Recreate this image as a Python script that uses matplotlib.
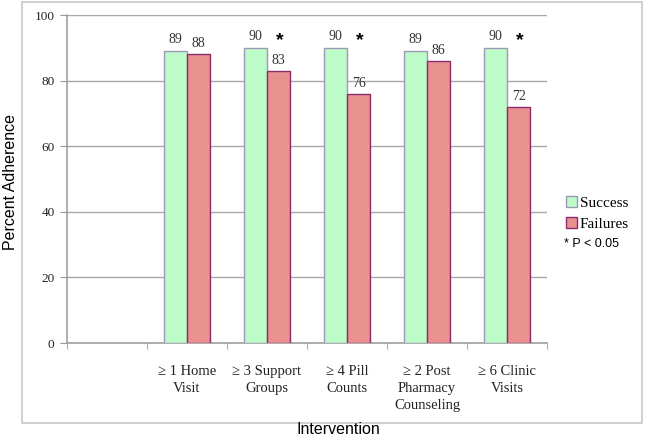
"""
Adherence by intervention: success vs failures, grouped bar chart.
"""

import matplotlib.pyplot as plt
import numpy as np
from matplotlib.patches import Patch, Rectangle

# === Data ===
CATEGORIES = ["", "≥ 1 Home\nVisit", "≥ 3 Support\nGroups", "≥ 4 Pill\nCounts",
              "≥ 2 Post\nPharmacy\nCounseling", "≥ 6 Clinic\nVisits"]
SUCCESS = [np.nan, 89, 90, 90, 89, 90]
FAILURES = [np.nan, 88, 83, 76, 86, 72]
SIGNIFICANT = [False, False, True, True, False, True]

GREEN = "#bdfcc9"
GREEN_EDGE = "#9a9ab8"
RED = "#e8918f"
RED_EDGE = "#8e2a6e"
SERIF = "Liberation Serif"
SANS = "Liberation Sans"

fig = plt.figure(figsize=(6.45, 4.37), dpi=100)
ax = fig.add_axes([67 / 645, 1 - 343 / 437, 480 / 645, 328 / 437])

# light frame round the whole chart
fig.patches.append(Rectangle((22 / 645, 1 - 423 / 437), 620 / 645, 421 / 437,
                             transform=fig.transFigure, fill=False,
                             edgecolor="#c8c8c8", linewidth=1.2))

x = np.arange(len(CATEGORIES))
width = 0.29
ax.bar(x - width / 2, SUCCESS, width, color=GREEN, edgecolor=GREEN_EDGE,
       linewidth=1, zorder=3)
ax.bar(x + width / 2, FAILURES, width, color=RED, edgecolor=RED_EDGE,
       linewidth=1, zorder=3)

# value labels and significance stars
for i, (s, f, sig) in enumerate(zip(SUCCESS, FAILURES, SIGNIFICANT)):
    if np.isnan(s):
        continue
    ax.text(i - width / 2, s + 1.6, f"{s:d}", ha="center", va="bottom",
            fontsize=10, family=SERIF, color="#333333")
    ax.text(i + width / 2, f + 1.2, f"{f:d}", ha="center", va="bottom",
            fontsize=10, family=SERIF, color="#333333")
    if sig:
        ax.text(i + width / 2 + 0.02, s + 2.2, "*", ha="center", va="center",
                fontsize=14, fontweight="bold", family=SANS, color="black")

ax.set_xlim(-0.5, len(CATEGORIES) - 0.5)
ax.set_ylim(0, 100)
ax.set_yticks([0, 20, 40, 60, 80, 100])
ax.set_xticks(x)
ax.set_xticklabels(CATEGORIES, fontsize=10.5, family=SERIF, color="#222222",
                   linespacing=1.38)
ax.set_xticks(np.arange(len(CATEGORIES) + 1) - 0.5, minor=True)
ax.tick_params(axis="x", which="major", length=0, pad=16)
ax.tick_params(axis="x", which="minor", length=4, color="#999999", direction="out")
ax.tick_params(axis="y", length=5, color="#999999", direction="out", pad=4)
for lab in ax.get_yticklabels():
    lab.set_family(SERIF)
    lab.set_fontsize(9.5)
    lab.set_color("#222222")

ax.grid(True, axis="y", color="#a8a8a8", linewidth=1, zorder=0)
for side in ["top", "right"]:
    ax.spines[side].set_visible(False)
for side in ["left", "bottom"]:
    ax.spines[side].set_color("#a0a0a0")
    ax.spines[side].set_linewidth(1.2)

fig.text(11 / 645, 1 - 182 / 437, "Percent Adherence", rotation=90,
         ha="center", va="center", fontsize=11.5, family=SANS)
fig.text(338 / 645, 1 - 430 / 437, "Intervention", ha="center", va="center",
         fontsize=11.5, family=SANS)

handles = [Patch(facecolor=GREEN, edgecolor=GREEN_EDGE, label="Success"),
           Patch(facecolor=RED, edgecolor=RED_EDGE, label="Failures")]
fig.legend(handles=handles, loc="upper left",
           bbox_to_anchor=(560 / 645, 1 - 190 / 437), frameon=False,
           prop={"family": SERIF, "size": 11}, handlelength=0.7,
           handleheight=0.7, handletextpad=0.2, labelspacing=0.5,
           borderaxespad=0)
fig.text(564 / 645, 1 - 244 / 437, "* P < 0.05", ha="left", va="center",
         fontsize=9, family=SANS)

plt.savefig("out.png", dpi=100)
plt.close()
